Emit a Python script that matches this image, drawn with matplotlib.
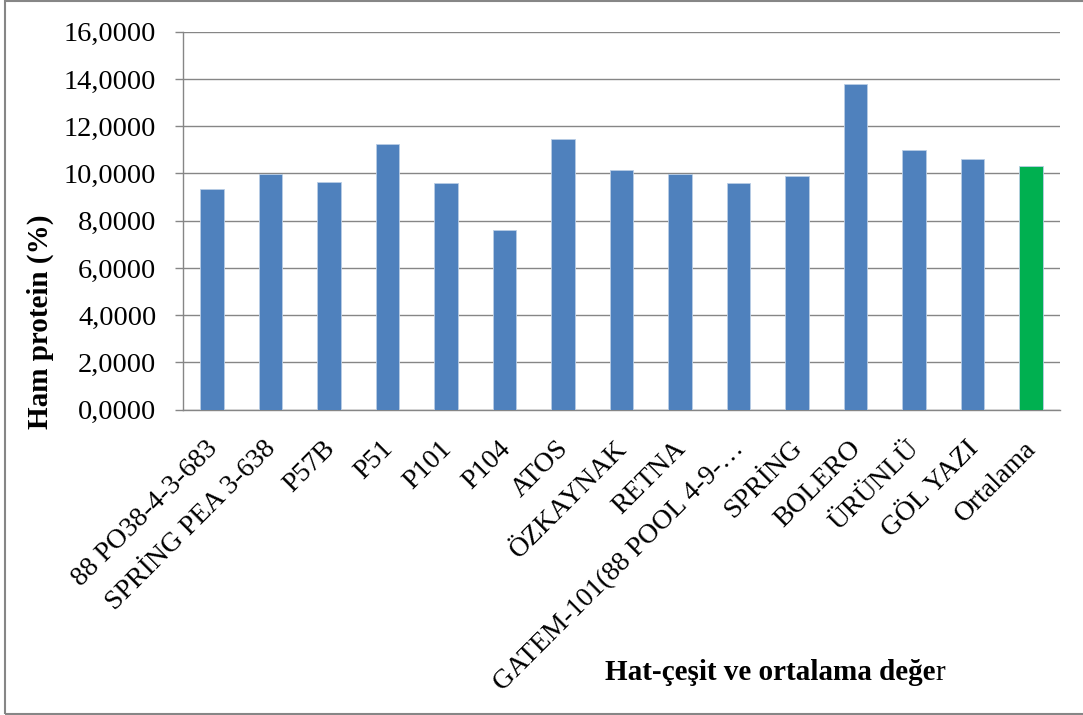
import matplotlib
matplotlib.use("Agg")
import matplotlib.pyplot as plt
from matplotlib.ticker import FuncFormatter, MultipleLocator
from matplotlib.patches import Rectangle
from matplotlib.transforms import ScaledTranslation

# Crude protein (%) per line/cultivar and the overall mean
categories = [
    "88 PO38-4-3-683", "SPRİNG PEA 3-638", "P57B", "P51", "P101", "P104",
    "ATOS", "ÖZKAYNAK", "RETNA", "GATEM-101(88 POOL 4-9-…", "SPRİNG",
    "BOLERO", "ÜRÜNLÜ", "GÖL YAZI", "Ortalama",
]
values = [9.34, 9.99, 9.65, 11.25, 9.58, 7.62, 11.47, 10.14, 9.99, 9.61,
          9.90, 13.79, 11.01, 10.63, 10.30]
bar_colors = ["#4F81BD"] * 14 + ["#00B050"]

plt.rcParams["font.family"] = ["Liberation Serif", "DejaVu Serif"]

fig = plt.figure(figsize=(10.83, 7.15), dpi=100)
W, H = 1083, 715
ax = fig.add_axes([182.7 / W, 1 - 409.7 / H, (1060.3 - 182.7) / W, (409.7 - 31.7) / H])

x = range(len(categories))
ax.bar(x, values, width=0.4, color=bar_colors, edgecolor="#B9CDE5",
       linewidth=0.6, zorder=3)

ax.set_xlim(-0.5, len(categories) - 0.5)
ax.set_ylim(0, 16)
ax.yaxis.set_major_locator(MultipleLocator(2))
ax.yaxis.set_major_formatter(FuncFormatter(lambda v, p: f"{v:.4f}".replace(".", ",")))
ax.grid(axis="y", color="#868686", linewidth=1.0, zorder=0)

for side in ("top", "right"):
    ax.spines[side].set_visible(False)
for side in ("left", "bottom"):
    ax.spines[side].set_color("#868686")
    ax.spines[side].set_linewidth(1.0)

ax.tick_params(axis="y", length=6, width=1.0, color="#868686", labelsize=20.5, pad=13)
ax.tick_params(axis="x", length=0, pad=19)
ax.set_xticks(list(x))
ax.set_xticklabels(categories, rotation=45, ha="right", va="top",
                   rotation_mode="anchor", fontsize=20)
shift = ScaledTranslation(-7 / 100, 0, fig.dpi_scale_trans)
for lbl in ax.get_xticklabels():
    lbl.set_transform(lbl.get_transform() + shift)

# axis titles
fig.text(40 / W, 1 - 322 / H, "Ham protein (%)", fontsize=21, fontweight="bold",
         rotation=90, ha="center", va="center")
xt = fig.text(605 / W, 1 - 673 / H, "Hat-çeşit ve ortalama değe", fontsize=21,
              fontweight="bold", ha="left", va="center")

# outer chart frame
fig.patches.append(Rectangle((5 / W, 1 / H), 1.2, 1 - 2 / H, transform=fig.transFigure,
                             fill=False, edgecolor="#868686", linewidth=1.5))

fig.canvas.draw()
bb = xt.get_window_extent()
fig.text(bb.x1 / W, 1 - 673 / H, "r", fontsize=21, ha="left", va="center")

fig.savefig("out.png", dpi=100)
